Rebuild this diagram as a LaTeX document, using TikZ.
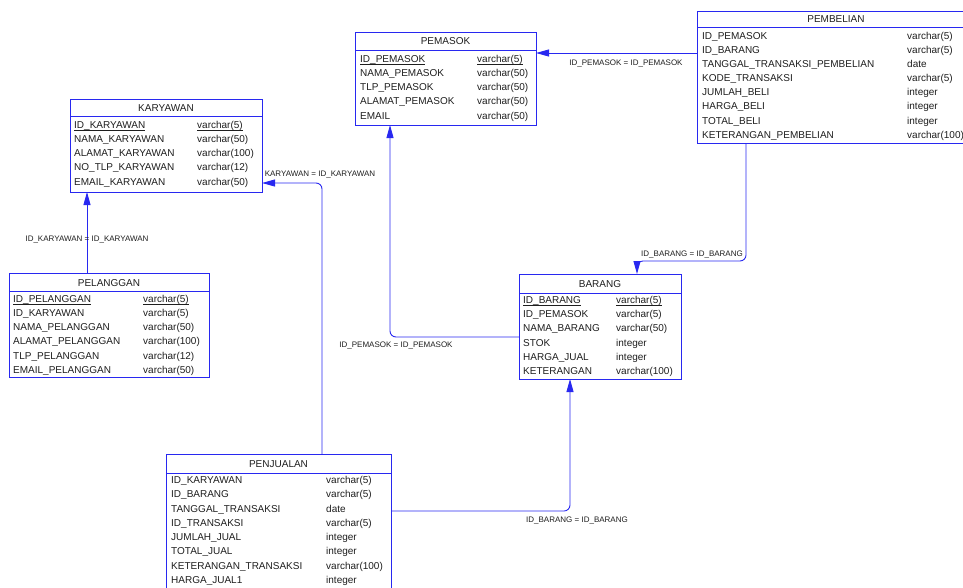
\documentclass[tikz,border=0pt]{standalone}
\usepackage{fontspec}
\setmainfont{Liberation Sans}
\usetikzlibrary{arrows.meta}
\definecolor{erblue}{RGB}{40,40,240}
\definecolor{ertext}{RGB}{30,30,30}
\newcommand{\pkey}[1]{\underline{\smash{#1}}}
\tikzset{
 tbl/.style={draw=erblue, line width=0.9pt, anchor=north west, inner sep=0pt, outer sep=0pt},
 hdr/.style={font=\fontsize{10}{12}\selectfont, text=ertext, inner sep=0pt},
 fld/.style={anchor=base west, yshift=-3.3pt, font=\fontsize{10}{12}\selectfont, text=ertext, inner sep=0pt},
 lbl/.style={font=\fontsize{8}{10}\selectfont, text=ertext, inner sep=0pt},
 fk/.style={draw=erblue, line width=0.9pt, rounded corners=6pt, -{Triangle[length=13pt,width=7pt]}},
 sepline/.style={draw=erblue, line width=0.9pt}
}
\begin{document}
\begin{tikzpicture}[x=1pt,y=-1pt]
\useasboundingbox (0,0) rectangle (963,587);
\clip (0,0) rectangle (963,587);

% PEMASOK
\node[tbl, minimum width=181pt, minimum height=93pt] (pemasok) at (355,32) {};
\node[hdr] (pemasok-h) at (445.5,41.5) {PEMASOK};
\draw[sepline] (pemasok.west |- 0,50) -- (pemasok.east |- 0,50);
\node[fld] (pm1) at (360,59.5) {\pkey{ID\_PEMASOK}};
\node[fld] (pm1t) at (477,59.5) {\pkey{varchar(5)}};
\node[fld] (pm2) at (360,73.5) {NAMA\_PEMASOK};
\node[fld] (pm2t) at (477,73.5) {varchar(50)};
\node[fld] (pm3) at (360,87.5) {TLP\_PEMASOK};
\node[fld] (pm3t) at (477,87.5) {varchar(50)};
\node[fld] (pm4) at (360,101.5) {ALAMAT\_PEMASOK};
\node[fld] (pm4t) at (477,101.5) {varchar(50)};
\node[fld] (pm5) at (360,116) {EMAIL};
\node[fld] (pm5t) at (477,116) {varchar(50)};

% PEMBELIAN
\node[tbl, minimum width=275pt, minimum height=132pt] (pembelian) at (697,11) {};
\node[hdr] (pembelian-h) at (836,19) {PEMBELIAN};
\draw[sepline] (pembelian.west |- 0,27) -- (pembelian.east |- 0,27);
\node[fld] (pb1) at (702,36.5) {ID\_PEMASOK};
\node[fld] (pb1t) at (907,36.5) {varchar(5)};
\node[fld] (pb2) at (702,50) {ID\_BARANG};
\node[fld] (pb2t) at (907,50) {varchar(5)};
\node[fld] (pb3) at (702,64) {TANGGAL\_TRANSAKSI\_PEMBELIAN};
\node[fld] (pb3t) at (907,64) {date};
\node[fld] (pb4) at (702,78) {KODE\_TRANSAKSI};
\node[fld] (pb4t) at (907,78) {varchar(5)};
\node[fld] (pb5) at (702,92.5) {JUMLAH\_BELI};
\node[fld] (pb5t) at (907,92.5) {integer};
\node[fld] (pb6) at (702,106.5) {HARGA\_BELI};
\node[fld] (pb6t) at (907,106.5) {integer};
\node[fld] (pb7) at (702,121) {TOTAL\_BELI};
\node[fld] (pb7t) at (907,121) {integer};
\node[fld] (pb8) at (702,135.5) {KETERANGAN\_PEMBELIAN};
\node[fld] (pb8t) at (907,135.5) {varchar(100)};

% KARYAWAN
\node[tbl, minimum width=192pt, minimum height=93pt] (karyawan) at (70,99) {};
\node[hdr] (karyawan-h) at (166,108) {KARYAWAN};
\draw[sepline] (karyawan.west |- 0,116) -- (karyawan.east |- 0,116);
\node[fld] (k1) at (74,125.5) {\pkey{ID\_KARYAWAN}};
\node[fld] (k1t) at (197,125.5) {\pkey{varchar(5)}};
\node[fld] (k2) at (74,139.5) {NAMA\_KARYAWAN};
\node[fld] (k2t) at (197,139.5) {varchar(50)};
\node[fld] (k3) at (74,153.5) {ALAMAT\_KARYAWAN};
\node[fld] (k3t) at (197,153.5) {varchar(100)};
\node[fld] (k4) at (74,167.5) {NO\_TLP\_KARYAWAN};
\node[fld] (k4t) at (197,167.5) {varchar(12)};
\node[fld] (k5) at (74,182) {EMAIL\_KARYAWAN};
\node[fld] (k5t) at (197,182) {varchar(50)};

% PELANGGAN
\node[tbl, minimum width=200pt, minimum height=104pt] (pelanggan) at (9,273) {};
\node[hdr] (pelanggan-h) at (109,283) {PELANGGAN};
\draw[sepline] (pelanggan.west |- 0,291) -- (pelanggan.east |- 0,291);
\node[fld] (pl1) at (13,299) {\pkey{ID\_PELANGGAN}};
\node[fld] (pl1t) at (143,299) {\pkey{varchar(5)}};
\node[fld] (pl2) at (13,313) {ID\_KARYAWAN};
\node[fld] (pl2t) at (143,313) {varchar(5)};
\node[fld] (pl3) at (13,327.5) {NAMA\_PELANGGAN};
\node[fld] (pl3t) at (143,327.5) {varchar(50)};
\node[fld] (pl4) at (13,341.5) {ALAMAT\_PELANGGAN};
\node[fld] (pl4t) at (143,341.5) {varchar(100)};
\node[fld] (pl5) at (13,356) {TLP\_PELANGGAN};
\node[fld] (pl5t) at (143,356) {varchar(12)};
\node[fld] (pl6) at (13,370) {EMAIL\_PELANGGAN};
\node[fld] (pl6t) at (143,370) {varchar(50)};

% PENJUALAN
\node[tbl, minimum width=225pt, minimum height=150pt] (penjualan) at (166,454) {};
\node[hdr] (penjualan-h) at (278.5,464) {PENJUALAN};
\draw[sepline] (penjualan.west |- 0,473) -- (penjualan.east |- 0,473);
\node[fld] (pj1) at (171,480.5) {ID\_KARYAWAN};
\node[fld] (pj1t) at (326,480.5) {varchar(5)};
\node[fld] (pj2) at (171,494.5) {ID\_BARANG};
\node[fld] (pj2t) at (326,494.5) {varchar(5)};
\node[fld] (pj3) at (171,509) {TANGGAL\_TRANSAKSI};
\node[fld] (pj3t) at (326,509) {date};
\node[fld] (pj4) at (171,523) {ID\_TRANSAKSI};
\node[fld] (pj4t) at (326,523) {varchar(5)};
\node[fld] (pj5) at (171,537.5) {JUMLAH\_JUAL};
\node[fld] (pj5t) at (326,537.5) {integer};
\node[fld] (pj6) at (171,551.5) {TOTAL\_JUAL};
\node[fld] (pj6t) at (326,551.5) {integer};
\node[fld] (pj7) at (171,566) {KETERANGAN\_TRANSAKSI};
\node[fld] (pj7t) at (326,566) {varchar(100)};
\node[fld] (pj8) at (171,580) {HARGA\_JUAL1};
\node[fld] (pj8t) at (326,580) {integer};

% BARANG
\node[tbl, minimum width=162pt, minimum height=105pt] (barang) at (519,274) {};
\node[hdr] (barang-h) at (600,284) {BARANG};
\draw[sepline] (barang.west |- 0,293) -- (barang.east |- 0,293);
\node[fld] (b1) at (523,300) {\pkey{ID\_BARANG}};
\node[fld] (b1t) at (616,300) {\pkey{varchar(5)}};
\node[fld] (b2) at (523,314) {ID\_PEMASOK};
\node[fld] (b2t) at (616,314) {varchar(5)};
\node[fld] (b3) at (523,328.5) {NAMA\_BARANG};
\node[fld] (b3t) at (616,328.5) {varchar(50)};
\node[fld] (b4) at (523,343) {STOK};
\node[fld] (b4t) at (616,343) {integer};
\node[fld] (b5) at (523,357) {HARGA\_JUAL};
\node[fld] (b5t) at (616,357) {integer};
\node[fld] (b6) at (523,371.5) {KETERANGAN};
\node[fld] (b6t) at (616,371.5) {varchar(100)};

% connectors
\draw[fk] (pembelian.west |- 0,53) -- (pemasok.east |- 0,53);
\draw[fk] (pembelian.south -| 746,0) -- (746,261) -- (637,261) -- (barang.north -| 637,0);
\draw[fk] (barang.west |- 0,337) -- (390,337) -- (pemasok.south -| 390,0);
\draw[fk] (penjualan.east |- 0,511) -- (570,511) -- (barang.south -| 570,0);
\draw[fk] (penjualan.north -| 322,0) -- (322,183) -- (karyawan.east |- 0,183);
\draw[fk] (pelanggan.north -| 87,0) -- (karyawan.south -| 87,0);

% labels
\node[lbl] (l1) at (626,63.5) {ID\_PEMASOK = ID\_PEMASOK};
\node[lbl] (l2) at (692,254) {ID\_BARANG = ID\_BARANG};
\node[lbl] (l3) at (396,345) {ID\_PEMASOK = ID\_PEMASOK};
\node[lbl] (l4) at (577,520) {ID\_BARANG = ID\_BARANG};
\node[lbl] (l5) at (320,175) {KARYAWAN = ID\_KARYAWAN};
\node[lbl] (l6) at (87,239.5) {ID\_KARYAWAN = ID\_KARYAWAN};
\end{tikzpicture}
\end{document}
